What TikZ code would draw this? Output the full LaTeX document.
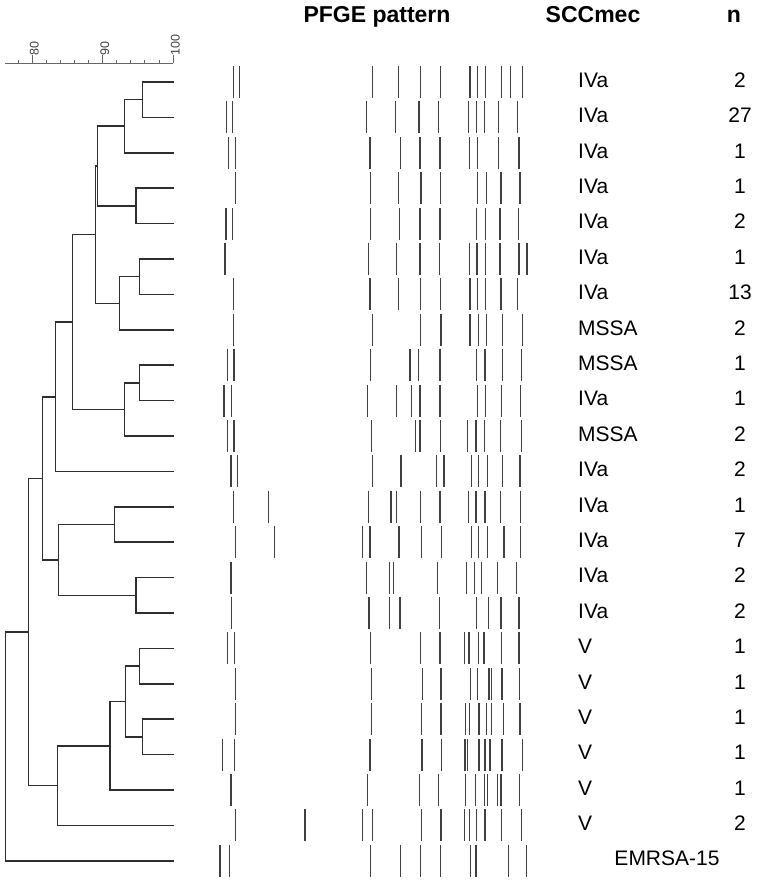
\documentclass[tikz,border=0pt]{standalone}
\usepackage{fontspec}
\setmainfont{Liberation Sans}
\begin{document}
\begin{tikzpicture}[x=1pt,y=-1pt,
  tree/.style={draw=black!82,line width=1.5pt,line cap=rect},
  band/.style={draw=black!75,line width=1.5pt},
  axisline/.style={draw=black!60,line width=0.8pt},
  lbl/.style={anchor=base west,inner sep=0pt,font=\fontsize{21}{25}\selectfont},
  num/.style={anchor=base,inner sep=0pt,font=\fontsize{21}{25}\selectfont},
  head/.style={anchor=base,inner sep=0pt,font=\fontsize{23}{27}\selectfont\bfseries},
  scalelbl/.style={anchor=west,rotate=90,inner sep=0pt,font=\fontsize{12.5}{14}\selectfont,text=black!75}]
\useasboundingbox (0,0) rectangle (761,882);

% headers
\node[head] (hp) at (377,22.5) {PFGE pattern};
\node[head] (hs) at (593,22.5) {SCCmec};
\node[head] (hn) at (734,22.5) {n};

% similarity scale
\coordinate (axl) at (5,63.5);
\coordinate (axr) at (173,63.5);
\draw[axisline] (axl) -- (axr);
\foreach \v in {78,80,...,100}
  \draw[axisline] ({173-(100-\v)*7.045},63.5) -- ++(0,-3.2);
\foreach \v in {80,90,100}{
  \draw[axisline] ({173-(100-\v)*7.045},63.5) -- ++(0,-8.5);
  \node[scalelbl] (sc\v) at ({173-(100-\v)*7.045+2.3},55.5) {\v};
}

% leaves
\foreach \i in {0,...,22}
  \coordinate (L\i) at (173,{82+35.4*\i});

% internal nodes
\coordinate (nA) at (142.7,99.7);
\coordinate (nB) at (124.3,126.25);
\coordinate (nC) at (136,205.9);
\coordinate (nD) at (97.7,166.1);
\coordinate (nF) at (139.3,276.7);
\coordinate (nG) at (119.3,303.25);
\coordinate (nE) at (95.7,234.7);
\coordinate (nJ) at (139.3,382.9);
\coordinate (nI) at (124.3,409.45);
\coordinate (nH) at (72.3,322.1);
\coordinate (nK) at (55.7,396.75);
\coordinate (nL) at (114.3,524.5);
\coordinate (nM) at (136,595.3);
\coordinate (nN) at (58.7,559.9);
\coordinate (nO) at (42.7,478.3);
\coordinate (nR) at (139.3,666.1);
\coordinate (nS) at (142.7,736.9);
\coordinate (nT) at (125.3,701.5);
\coordinate (nU) at (110,745.75);
\coordinate (nQ) at (57.3,785.6);
\coordinate (nP) at (28.3,631.95);
\coordinate (nRoot) at (5.3,746.4);

\draw[tree] (L0) -| (nA) |- (L1);
\draw[tree] (nA) -| (nB) |- (L2);
\draw[tree] (L3) -| (nC) |- (L4);
\draw[tree] (nB) -| (nD) |- (nC);
\draw[tree] (L5) -| (nF) |- (L6);
\draw[tree] (nF) -| (nG) |- (L7);
\draw[tree] (nD) -| (nE) |- (nG);
\draw[tree] (L8) -| (nJ) |- (L9);
\draw[tree] (nJ) -| (nI) |- (L10);
\draw[tree] (nE) -| (nH) |- (nI);
\draw[tree] (nH) -| (nK) |- (L11);
\draw[tree] (L12) -| (nL) |- (L13);
\draw[tree] (L14) -| (nM) |- (L15);
\draw[tree] (nL) -| (nN) |- (nM);
\draw[tree] (nK) -| (nO) |- (nN);
\draw[tree] (L16) -| (nR) |- (L17);
\draw[tree] (L18) -| (nS) |- (L19);
\draw[tree] (nR) -| (nT) |- (nS);
\draw[tree] (nT) -| (nU) |- (L20);
\draw[tree] (nU) -| (nQ) |- (L21);
\draw[tree] (nO) -| (nP) |- (nQ);
\draw[tree] (nP) -| (nRoot) |- (L22);

% PFGE bands
\foreach \r/\xs in {
 0/{233.3,239.3,372.3,398.3,420.7,440.7,470,477.7,485.7,501.7,510.7,522.7},
 1/{226.7,232.7,366.7,395.7,419,438.7,468.7,476.7,484.3,498.7,517.7},
 2/{228.7,235.3,370,400.3,420,440,469.3,477.3,498.7,519},
 3/{235.7,370.7,398.3,421,440.7,477.7,486.7,501,520},
 4/{226,232.3,370.7,399.3,420,440,476.7,485.7,500,518.3},
 5/{225,368.3,396.7,420,439.3,469.3,477,485.7,500,519,527},
 6/{233.3,370,398.7,420.7,440.7,470,477.7,485.7,501,517.7},
 7/{233.3,372.3,420.7,441,470,478.7,486.7,502.7,522.7},
 8/{227.7,234,370.7,410,418.3,440,476.7,485,502.7,521.7},
 9/{224,231.7,367.3,396.7,411.7,420,440,477.7,485.7,501.7,520.7},
 10/{227.7,234,371.7,415.7,420,440.7,467.7,476,484.3,500.7,521.7},
 11/{231,237.7,372.3,401,436.7,444,471.7,478.7,487.7,502.7,520},
 12/{233.7,268.3,368.7,391,396.7,420.7,440,468.7,476,485,500.7,520.7},
 13/{235.7,274.3,362.7,370,399,421.7,441.7,471.7,478.7,487.3,504,520.7},
 14/{231,366.7,389.3,393.3,437.7,466.7,474.3,481.7,497.7,516.7},
 15/{231.7,369,389.3,400,439.3,476.7,488.3,501,519},
 16/{227.7,234.3,370.7,420.7,440,464.3,469,478.7,484,501.7,519},
 17/{235.7,371.7,422.3,441,470.7,477.7,489,491.7,502,519.3},
 18/{235.7,371.7,421.7,441,465.7,469.3,479,486.7,491.7,503.3,520},
 19/{222.7,234.3,370,422,441.7,465,467.7,479,485,490,502,522.7},
 20/{231,367.3,419.3,438.3,465.3,475.7,484.3,487.7,497.7,501,519.3},
 21/{235.3,305,362.7,372.3,421.7,441,464.3,469.3,476.7,485,501.7,521.7},
 22/{220,229.3,370.7,400.7,420.7,440.7,470.7,476,508.3,526.7}}{
  \foreach \x in \xs
    \draw[band] (\x,{82+35.4*\r-16}) -- (\x,{82+35.4*\r+16});
}

% SCCmec labels and counts
\foreach \i/\t/\n in {0/IVa/2,1/IVa/27,2/IVa/1,3/IVa/1,4/IVa/2,5/IVa/1,6/IVa/13,
  7/MSSA/2,8/MSSA/1,9/IVa/1,10/MSSA/2,11/IVa/2,12/IVa/1,13/IVa/7,14/IVa/2,15/IVa/2,
  16/V/1,17/V/1,18/V/1,19/V/1,20/V/1,21/V/2}{
  \node[lbl] (s\i) at (578,{82+35.4*\i+5.3}) {\t};
  \node[num] (n\i) at (740,{82+35.4*\i+5.3}) {\n};
}
\node[num] (s22) at (667,865) {EMRSA-15};
\end{tikzpicture}
\end{document}
